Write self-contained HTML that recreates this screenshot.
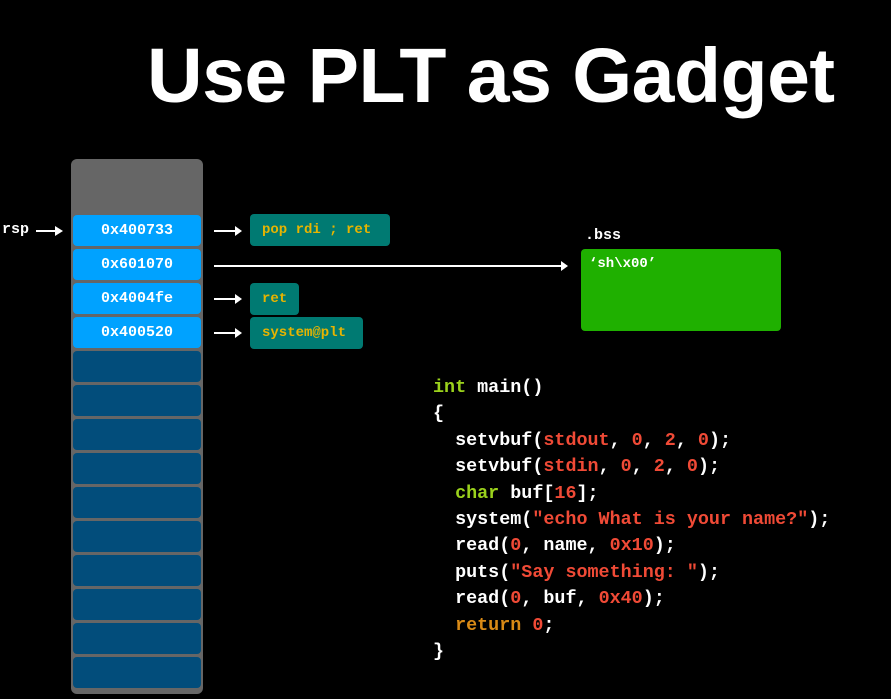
<!DOCTYPE html>
<html><head><style>
body{margin:0;width:891px;height:699px;background:#000;position:relative;overflow:hidden;font-family:"Liberation Mono",monospace}
.t{position:absolute;left:147px;top:32px;font:bold 77px "Liberation Sans",sans-serif;color:#fff;white-space:nowrap;letter-spacing:-0.5px}
.col{position:absolute;left:71px;top:159px;width:132px;height:535px;background:#666;border-radius:6px}
.c{position:absolute;left:73px;width:128px;height:31px;border-radius:4px;color:#fff;font-weight:bold;font-size:15px;text-align:center;line-height:31px}
.b{background:#00a2ff}.d{background:#024d7b}
.g{position:absolute;height:32px;background:#007a72;border-radius:4px;color:#e7b400;font-size:14px;font-weight:bold;line-height:32px;padding-left:12px;box-sizing:border-box}
.a{position:absolute;left:214px;width:24px;height:2px;background:#fff}
.a:after{content:"";position:absolute;right:-4px;top:-4px;border-left:7px solid #fff;border-top:5px solid transparent;border-bottom:5px solid transparent}
.code{position:absolute;left:433px;top:375px;font-size:18.4px;line-height:26.4px;color:#fff;font-weight:bold;white-space:pre}
.k{color:#9bd21c}.r{color:#f04a36}.o{color:#d98a16}
</style></head><body>
<div class="t">Use PLT as Gadget</div>
<div style="position:absolute;left:2px;top:221px;color:#fff;font-weight:bold;font-size:15px">rsp</div>
<div style="position:absolute;left:36px;top:230px;width:20px;height:2px;background:#fff"></div>
<div style="position:absolute;left:55px;top:226px;border-left:8px solid #fff;border-top:5px solid transparent;border-bottom:5px solid transparent"></div>
<div class="col"></div>
<div class="c b" style="top:215px">0x400733</div>
<div class="c b" style="top:249px">0x601070</div>
<div class="c b" style="top:283px">0x4004fe</div>
<div class="c b" style="top:317px">0x400520</div>
<div class="c d" style="top:351px"></div>
<div class="c d" style="top:385px"></div>
<div class="c d" style="top:419px"></div>
<div class="c d" style="top:453px"></div>
<div class="c d" style="top:487px"></div>
<div class="c d" style="top:521px"></div>
<div class="c d" style="top:555px"></div>
<div class="c d" style="top:589px"></div>
<div class="c d" style="top:623px"></div>
<div class="c d" style="top:657px"></div>
<div class="a" style="top:230px"></div>
<div class="a" style="top:298px"></div>
<div class="a" style="top:332px"></div>
<div class="a" style="top:265px;width:350px"></div>
<div class="g" style="left:250px;top:214px;width:140px">pop rdi ; ret</div>
<div class="g" style="left:250px;top:283px;width:49px">ret</div>
<div class="g" style="left:250px;top:317px;width:113px">system@plt</div>
<div style="position:absolute;left:585px;top:227px;color:#fff;font-weight:bold;font-size:15px">.bss</div>
<div style="position:absolute;left:581px;top:249px;width:200px;height:82px;background:#1fb000;border-radius:4px;color:#fff;font-weight:bold;font-size:14px;padding:7px 8px;box-sizing:border-box">‘sh\x00’</div>
<div class="code"><span class="k">int</span> main()
{
  setvbuf(<span class="r">stdout</span>, <span class="r">0</span>, <span class="r">2</span>, <span class="r">0</span>);
  setvbuf(<span class="r">stdin</span>, <span class="r">0</span>, <span class="r">2</span>, <span class="r">0</span>);
  <span class="k">char</span> buf[<span class="r">16</span>];
  system(<span class="r">"echo What is your name?"</span>);
  read(<span class="r">0</span>, name, <span class="r">0x10</span>);
  puts(<span class="r">"Say something: "</span>);
  read(<span class="r">0</span>, buf, <span class="r">0x40</span>);
  <span class="o">return</span> <span class="r">0</span>;
}</div>
</body></html>
